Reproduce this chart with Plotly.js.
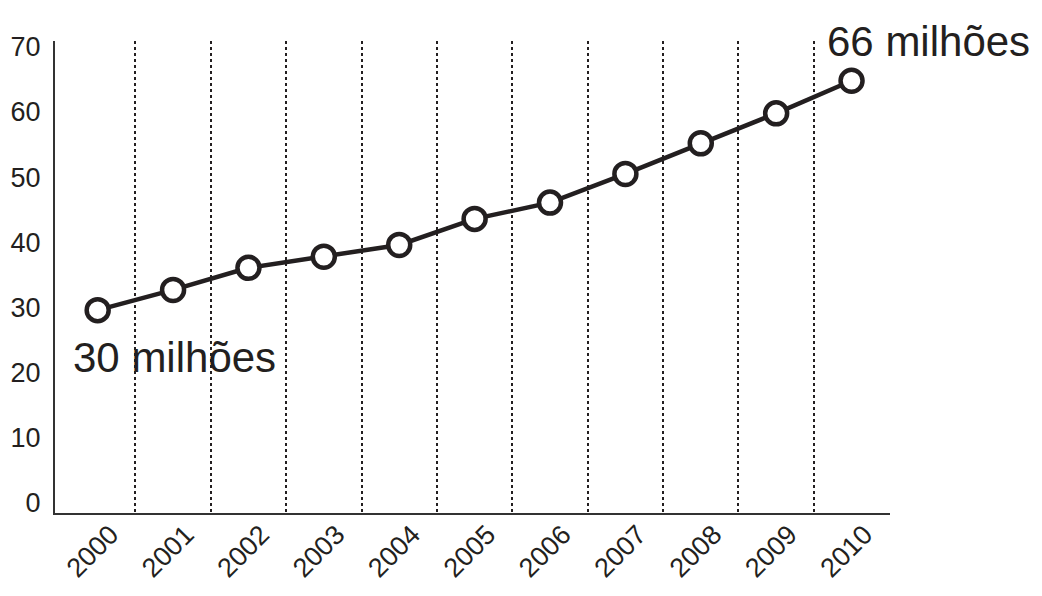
<!DOCTYPE html>
<html>
<head>
<meta charset="utf-8">
<script src="https://cdn.plot.ly/plotly-3.0.1.min.js"></script>
<style>
  html, body { margin: 0; padding: 0; background: #fff; }
  #chart { width: 1042px; height: 596px; }
</style>
</head>
<body>
<div id="chart"></div>
<script>
// years on the x axis and values in millions
const years = ['2000', '2001', '2002', '2003', '2004', '2005', '2006', '2007', '2008', '2009', '2010'];
const values = [29.6, 32.7, 36.1, 37.8, 39.6, 43.6, 46.1, 50.5, 55.2, 59.8, 64.8];
const yTicks = [0, 10, 20, 30, 40, 50, 60, 70];
const firstLabel = '30 milhões';
const lastLabel = '66 milhões';

const positions = years.map((_, i) => i);
// dotted separators sit halfway between the years
const separators = positions.map(p => p + 0.5);
const ink = '#231f20';
const font = 'Liberation Sans, Arial, Helvetica, sans-serif';

const trace = {
    x: positions,
    y: values,
    type: 'scatter',
    mode: 'lines+markers',
    line: { color: ink, width: 4.5 },
    marker: {
        size: 22,
        color: '#ffffff',
        line: { color: ink, width: 4.5 }
    },
    cliponaxis: false,
    hoverinfo: 'skip'
};

const layout = {
    width: 1042,
    height: 596,
    margin: { l: 55, r: 152, t: 41, b: 83 },
    paper_bgcolor: '#ffffff',
    plot_bgcolor: '#ffffff',
    showlegend: false,
    font: { family: font, color: ink },
    xaxis: {
        type: 'linear',
        range: [-0.566, 10.51],
        tickvals: positions,
        ticktext: years,
        tickangle: -45,
        tickfont: { size: 27, family: font, color: ink },
        ticks: '',
        ticklabelshift: 13,
        ticklabelstandoff: -7,
        showline: true,
        linecolor: '#333333',
        linewidth: 2,
        showgrid: false,
        zeroline: false,
        fixedrange: true,
        minor: {
            tickvals: separators,
            showgrid: true,
            gridcolor: ink,
            gridwidth: 2,
            griddash: 'dot',
            ticks: ''
        }
    },
    yaxis: {
        range: [-1.53, 70.9],
        tickvals: yTicks,
        ticktext: yTicks.map(String),
        tickfont: { size: 27, family: font, color: ink },
        ticks: '',
        ticklabelstandoff: 7,
        showline: true,
        linecolor: '#333333',
        linewidth: 2,
        showgrid: false,
        zeroline: false,
        fixedrange: true
    },
    annotations: [
        {
            x: positions[0],
            y: values[0],
            xref: 'x',
            yref: 'y',
            text: firstLabel,
            showarrow: false,
            xanchor: 'left',
            yanchor: 'middle',
            xshift: -27,
            yshift: -47,
            font: { size: 42, family: font, color: ink }
        },
        {
            x: positions[positions.length - 1],
            y: values[values.length - 1],
            xref: 'x',
            yref: 'y',
            text: lastLabel,
            showarrow: false,
            xanchor: 'left',
            yanchor: 'middle',
            xshift: -27,
            yshift: 39,
            font: { size: 42, family: font, color: ink }
        }
    ]
};

Plotly.newPlot('chart', [trace], layout, { displayModeBar: false, staticPlot: true });
</script>
</body>
</html>
